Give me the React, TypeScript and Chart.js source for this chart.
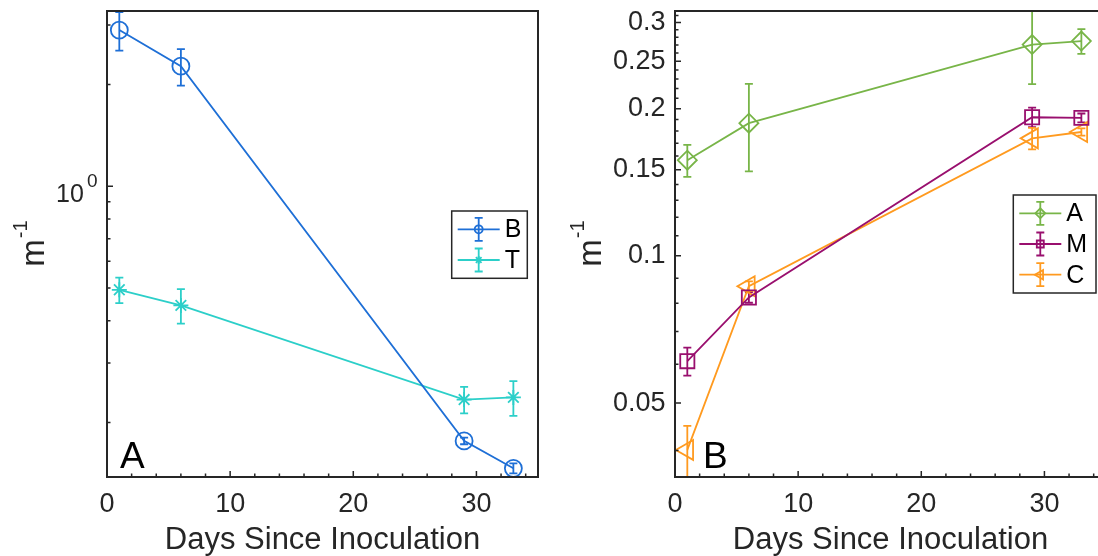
import React, { useEffect, useRef } from 'react';
import { Chart, registerables } from 'chart.js';

Chart.register(...registerables);

const FONT = '"Liberation Sans", Arial, Helvetica, sans-serif';
const INK = '#262626';

// ---------------- data ----------------
const days = [1, 6, 29, 33];

// panel A
const seriesB = [2.898, 2.266, 0.1765, 0.1464];
const errorB = [0.38, 0.28, 0.004, 0.005];
const seriesT = [0.494, 0.4442, 0.2339, 0.2373];
const errorT = [0.043, 0.052, 0.021, 0.028];

// panel B
const seriesA = [0.1569, 0.1868, 0.2705, 0.275];
const errorA = [0.0118, 0.038, 0.046, 0.016];
const seriesM = [0.0609, 0.0822, 0.1921, 0.1915];
const errorM = [0.004, 0.002, 0.0088, 0.004];
const seriesC = [0.0401, 0.0867, 0.1739, 0.1792];
const errorC = [0.0048, 0.002, 0.0088, 0.003];

const xTicks = [0, 10, 20, 30];
const xTickLabels = ['0', '10', '20', '30'];
const xMinorTicks = [2, 4, 6, 8, 12, 14, 16, 18, 22, 24, 26, 28, 32, 34];

const yTicksLeft = [1];
const yMinorTicksLeft = [0.2, 0.3, 0.4, 0.5, 0.6, 0.7, 0.8, 0.9, 2, 3];

const yTicksRight = [0.05, 0.1, 0.15, 0.2, 0.25, 0.3];
const yTickLabelsRight = ['0.05', '0.1', '0.15', '0.2', '0.25', '0.3'];
const yMinorTicksRight = [
  0.04, 0.06, 0.07, 0.08, 0.09, 0.11, 0.12, 0.13, 0.14, 0.16, 0.17, 0.18, 0.19,
  0.21, 0.22, 0.23, 0.24, 0.26, 0.27, 0.28, 0.29, 0.31,
];

const BLUE = '#1e6fd6';
const CYAN = '#2ccfc9';
const GREEN = '#78b548';
const PURPLE = '#990f6e';
const ORANGE = '#ff9a1f';

const LW = 1.8;

// ---------------- helpers ----------------
function dataset(label: string, values: number[], errors: number[], color: string, style: string, radius: number, rotation = 0) {
  return {
    label,
    data: days.map((d, i) => ({ x: d, y: values[i] })),
    errors,
    borderColor: color,
    backgroundColor: color,
    borderWidth: LW,
    pointStyle: style,
    pointRadius: radius,
    pointHoverRadius: radius,
    pointBorderColor: color,
    pointBackgroundColor: 'rgba(0,0,0,0)',
    pointBorderWidth: LW,
    pointRotation: rotation,
    tension: 0,
    fill: false,
    showLine: true,
  };
}

function drawMarker(ctx: CanvasRenderingContext2D, style: string, x: number, y: number, r: number) {
  ctx.beginPath();
  if (style === 'circle') {
    ctx.arc(x, y, r, 0, Math.PI * 2);
  } else if (style === 'star') {
    const d = r * Math.SQRT1_2;
    ctx.moveTo(x - r, y); ctx.lineTo(x + r, y);
    ctx.moveTo(x, y - r); ctx.lineTo(x, y + r);
    ctx.moveTo(x - d, y - d); ctx.lineTo(x + d, y + d);
    ctx.moveTo(x - d, y + d); ctx.lineTo(x + d, y - d);
  } else if (style === 'diamond') {
    ctx.moveTo(x - r, y); ctx.lineTo(x, y - r); ctx.lineTo(x + r, y); ctx.lineTo(x, y + r); ctx.closePath();
  } else if (style === 'square') {
    ctx.rect(x - r, y - r, 2 * r, 2 * r);
  } else if (style === 'triLeft') {
    ctx.moveTo(x - r, y); ctx.lineTo(x + 0.5 * r, y - 0.866 * r); ctx.lineTo(x + 0.5 * r, y + 0.866 * r); ctx.closePath();
  }
  ctx.stroke();
}

type LegendItem = { label: string; color: string; style: string; r: number };
type Decor = {
  letter: string;
  letterDx: number;
  yTitleDx: number;
  yMajor: number[];
  yMinor: number[];
  powerLabel: boolean;
  legend: { right: number; top: number; width: number; items: LegendItem[] };
};

function decorPlugin(cfg: Decor) {
  return {
    id: 'decor',
    beforeDatasetsDraw(chart: any) {
      const { ctx, chartArea: a } = chart;
      const xs = chart.scales.x;
      const ys = chart.scales.y;
      ctx.save();
      ctx.beginPath();
      ctx.rect(a.left - 1, a.top - 1, a.right - a.left + 2, a.bottom - a.top + 2);
      ctx.clip();
      chart.data.datasets.forEach((ds: any) => {
        ctx.strokeStyle = ds.borderColor;
        ctx.lineWidth = LW;
        ds.data.forEach((p: any, j: number) => {
          const e = ds.errors[j];
          const x = xs.getPixelForValue(p.x);
          const y1 = ys.getPixelForValue(p.y + e);
          const y2 = ys.getPixelForValue(p.y - e);
          ctx.beginPath();
          ctx.moveTo(x, y1); ctx.lineTo(x, y2);
          ctx.moveTo(x - 4, y1); ctx.lineTo(x + 4, y1);
          ctx.moveTo(x - 4, y2); ctx.lineTo(x + 4, y2);
          ctx.stroke();
        });
      });
      ctx.restore();
    },
    afterDraw(chart: any) {
      const { ctx, chartArea: a } = chart;
      const xs = chart.scales.x;
      const ys = chart.scales.y;
      ctx.save();
      // ticks (inward)
      ctx.strokeStyle = INK;
      ctx.lineWidth = 1.5;
      ctx.beginPath();
      xTicks.forEach((v) => { const x = xs.getPixelForValue(v); ctx.moveTo(x, a.bottom); ctx.lineTo(x, a.bottom - 6); });
      xMinorTicks.forEach((v) => { const x = xs.getPixelForValue(v); ctx.moveTo(x, a.bottom); ctx.lineTo(x, a.bottom - 3.5); });
      cfg.yMajor.forEach((v) => { const y = ys.getPixelForValue(v); ctx.moveTo(a.left, y); ctx.lineTo(a.left + 6, y); });
      cfg.yMinor.forEach((v) => { const y = ys.getPixelForValue(v); ctx.moveTo(a.left, y); ctx.lineTo(a.left + 3.5, y); });
      ctx.stroke();
      // axes box
      ctx.lineWidth = 2;
      ctx.strokeRect(a.left, a.top, a.right - a.left, a.bottom - a.top);

      ctx.fillStyle = INK;
      // 10^0 label
      if (cfg.powerLabel) {
        const y = ys.getPixelForValue(1);
        ctx.textAlign = 'left';
        ctx.textBaseline = 'alphabetic';
        ctx.font = `25px ${FONT}`;
        ctx.fillText('10', a.left - 51, y + 15.5);
        ctx.font = `19px ${FONT}`;
        ctx.fillText('0', a.left - 20, y + 1);
      }

      // y title  m^-1
      ctx.save();
      ctx.translate(a.left - cfg.yTitleDx, (a.top + a.bottom) / 2);
      ctx.rotate(-Math.PI / 2);
      ctx.textAlign = 'left';
      ctx.textBaseline = 'alphabetic';
      ctx.font = `33px ${FONT}`;
      const w1 = ctx.measureText('m').width;
      ctx.font = `20px ${FONT}`;
      const w2 = ctx.measureText('-1').width;
      const sx = -(w1 + w2) / 2;
      ctx.font = `33px ${FONT}`;
      ctx.fillText('m', sx, 0);
      ctx.font = `20px ${FONT}`;
      ctx.fillText('-1', sx + w1 + 1, -17);
      ctx.restore();

      // x title
      ctx.font = `31px ${FONT}`;
      ctx.textAlign = 'center';
      ctx.textBaseline = 'alphabetic';
      ctx.fillText('Days Since Inoculation', (a.left + a.right) / 2, 549);

      // panel letter
      ctx.fillStyle = '#000';
      ctx.font = `37px ${FONT}`;
      ctx.textAlign = 'left';
      ctx.fillText(cfg.letter, a.left + cfg.letterDx, a.bottom - 9);

      // legend
      const L = cfg.legend;
      const n = L.items.length;
      const h = 2 * 18.3 + (n - 1) * 30.7;
      const bx = a.right - L.right - L.width;
      const by = a.top + L.top;
      ctx.fillStyle = '#fff';
      ctx.fillRect(bx, by, L.width, h);
      ctx.strokeStyle = INK;
      ctx.lineWidth = 1.5;
      ctx.strokeRect(bx, by, L.width, h);
      L.items.forEach((it, k) => {
        const cy = by + 18.3 + k * 30.7;
        const x1 = bx + 6;
        const x2 = x1 + 42;
        const xm = (x1 + x2) / 2;
        ctx.strokeStyle = it.color;
        ctx.lineWidth = LW;
        ctx.beginPath();
        ctx.moveTo(x1, cy); ctx.lineTo(x2, cy);
        ctx.moveTo(xm, cy - 11.5); ctx.lineTo(xm, cy + 11.5);
        ctx.moveTo(xm - 4, cy - 11.5); ctx.lineTo(xm + 4, cy - 11.5);
        ctx.moveTo(xm - 4, cy + 11.5); ctx.lineTo(xm + 4, cy + 11.5);
        ctx.stroke();
        drawMarker(ctx, it.style, xm, cy, it.r);
        ctx.fillStyle = '#000';
        ctx.font = `25px ${FONT}`;
        ctx.textAlign = 'left';
        ctx.textBaseline = 'middle';
        ctx.fillText(it.label, x2 + 5, cy + 1);
      });
      ctx.restore();
    },
  };
}

function makeConfig(opts: {
  datasets: any[];
  yMin: number;
  yMax: number;
  yWidth: number;
  rightPad: number;
  yLabels: boolean;
  decor: Decor;
}): any {
  return {
    type: 'line',
    data: { datasets: opts.datasets },
    plugins: [decorPlugin(opts.decor)],
    options: {
      responsive: false,
      animation: false,
      events: [],
      layout: { autoPadding: false, padding: { top: 11, right: opts.rightPad, left: 0, bottom: 0 } },
      plugins: { legend: { display: false }, tooltip: { enabled: false } },
      scales: {
        x: {
          type: 'linear',
          min: 0,
          max: 35,
          grid: { display: false, drawTicks: false },
          border: { display: false },
          ticks: {
            font: { size: 27, family: FONT },
            color: INK,
            padding: 11.5,
            maxRotation: 0,
            autoSkip: false,
            callback: (v: number) => {
              const i = xTicks.indexOf(v);
              return i >= 0 ? xTickLabels[i] : '';
            },
          },
          afterBuildTicks: (s: any) => { s.ticks = xTicks.map((v) => ({ value: v })); },
          afterFit: (s: any) => {
            s.height = 79;
            s.paddingLeft = 0; s.paddingRight = 0; s.paddingTop = 0; s.paddingBottom = 0;
          },
        },
        y: {
          type: 'logarithmic',
          min: opts.yMin,
          max: opts.yMax,
          grid: { display: false, drawTicks: false },
          border: { display: false },
          ticks: {
            display: opts.yLabels,
            font: { size: 27, family: FONT },
            color: INK,
            padding: 9.5,
            autoSkip: false,
            callback: (v: number) => {
              const i = yTicksRight.findIndex((t) => Math.abs(t - v) < 1e-9);
              return i >= 0 ? yTickLabelsRight[i] : '';
            },
          },
          afterBuildTicks: (s: any) => {
            if (opts.yLabels) s.ticks = yTicksRight.map((v) => ({ value: v }));
          },
          afterFit: (s: any) => {
            s.width = opts.yWidth;
            s.paddingLeft = 0; s.paddingRight = 0; s.paddingTop = 0; s.paddingBottom = 0;
          },
        },
      },
    },
  };
}

function configA() {
  return makeConfig({
    datasets: [
      dataset('B', seriesB, errorB, BLUE, 'circle', 8.5),
      dataset('T', seriesT, errorT, CYAN, 'star', 7.5),
    ],
    yMin: 0.138,
    yMax: 3.3,
    yWidth: 107,
    rightPad: 11,
    yLabels: false,
    decor: {
      letter: 'A',
      letterDx: 13,
      yTitleDx: 63.5,
      yMajor: yTicksLeft,
      yMinor: yMinorTicksLeft,
      powerLabel: true,
      legend: {
        right: 10.7,
        top: 200,
        width: 75.6,
        items: [
          { label: 'B', color: BLUE, style: 'circle', r: 4 },
          { label: 'T', color: CYAN, style: 'star', r: 4 },
        ],
      },
    },
  });
}

function configB() {
  return makeConfig({
    datasets: [
      dataset('A', seriesA, errorA, GREEN, 'rectRot', 9.5),
      dataset('M', seriesM, errorM, PURPLE, 'rect', 10),
      dataset('C', seriesC, errorC, ORANGE, 'triangle', 11.5, -90),
    ],
    yMin: 0.0353,
    yMax: 0.3168,
    yWidth: 126,
    rightPad: 13,
    yLabels: true,
    decor: {
      letter: 'B',
      letterDx: 28,
      yTitleDx: 74,
      yMajor: yTicksRight,
      yMinor: yMinorTicksRight,
      powerLabel: false,
      legend: {
        right: 10,
        top: 184,
        width: 82.7,
        items: [
          { label: 'A', color: GREEN, style: 'diamond', r: 5 },
          { label: 'M', color: PURPLE, style: 'square', r: 3.5 },
          { label: 'C', color: ORANGE, style: 'triLeft', r: 5.5 },
        ],
      },
    },
  });
}

function Panel({ left, width, make }: { left: number; width: number; make: () => any }) {
  const ref = useRef<HTMLCanvasElement>(null);
  useEffect(() => {
    const chart = new Chart(ref.current as HTMLCanvasElement, make());
    return () => chart.destroy();
  }, []);
  return (
    <canvas
      ref={ref}
      width={width}
      height={556}
      style={{ position: 'absolute', left, top: 0, width, height: 556 }}
    />
  );
}

export default function App() {
  return (
    <div
      style={{
        position: 'fixed',
        left: 0,
        top: 0,
        width: 1098,
        height: 556,
        overflow: 'hidden',
        background: '#ffffff',
      }}
    >
      <Panel left={0} width={549} make={configA} />
      <Panel left={549} width={570} make={configB} />
    </div>
  );
}
